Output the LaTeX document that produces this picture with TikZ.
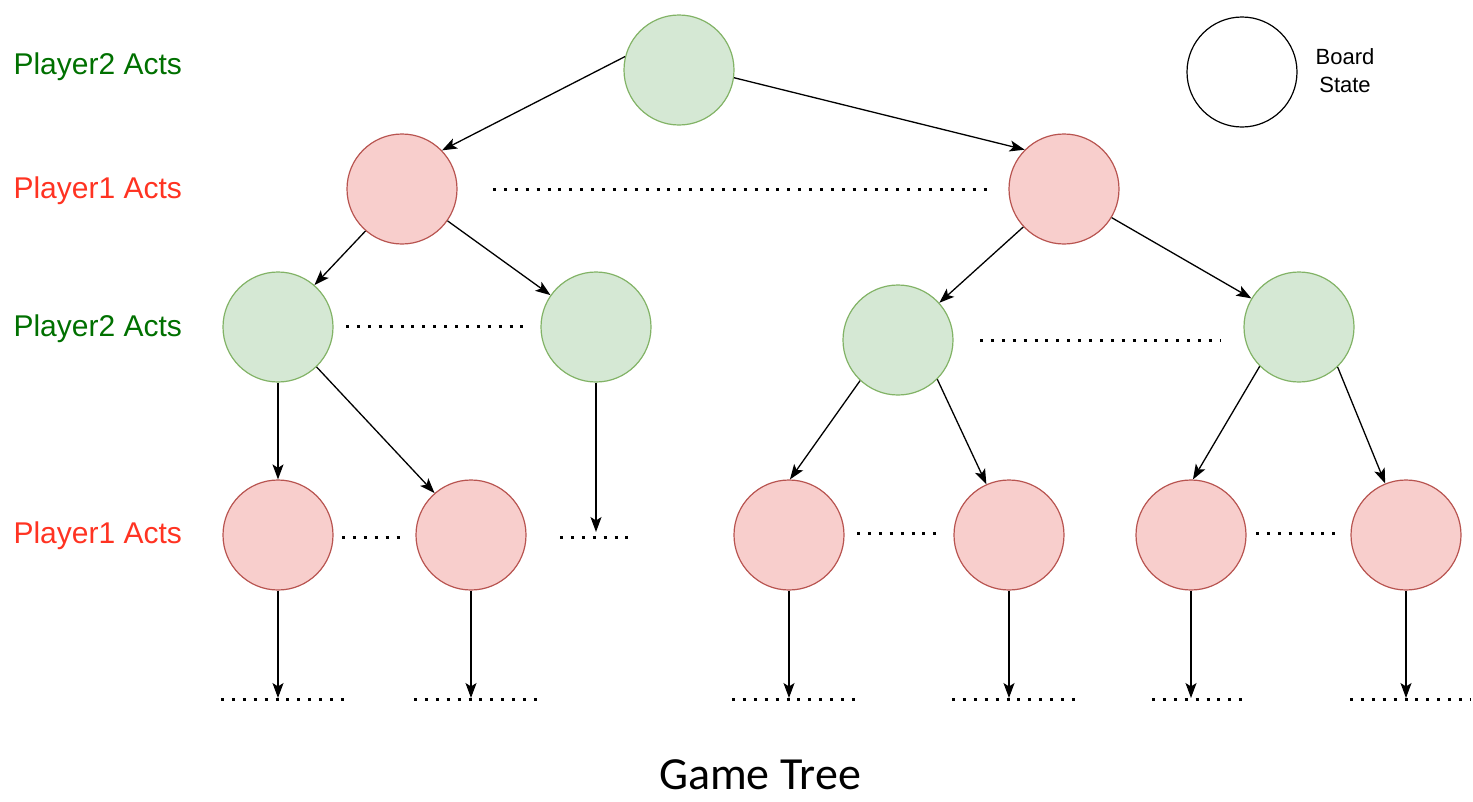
\documentclass[tikz,border=0pt]{standalone}
\usepackage{fontspec}
\setmainfont{Liberation Sans}
\newfontfamily\titlefont{Carlito}
\usetikzlibrary{arrows.meta}
\definecolor{gfill}{HTML}{D5E8D4}
\definecolor{gline}{HTML}{82B366}
\definecolor{rfill}{HTML}{F8CECC}
\definecolor{rline}{HTML}{B85450}
\definecolor{gtext}{HTML}{007000}
\definecolor{rtext}{HTML}{FF3322}
\tikzset{
  state/.style={circle, minimum size=110pt, inner sep=0pt, line width=1.2pt},
  gstate/.style={state, fill=gfill, draw=gline},
  rstate/.style={state, fill=rfill, draw=rline},
  conn/.style={line width=1.3pt, -{Stealth[length=15pt,width=11pt,inset=3.5pt]}},
  dots/.style={line width=3pt, dash pattern=on 3pt off 7.9pt},
  lvl/.style={anchor=west, font=\fontsize{30}{34}\selectfont},
}
\begin{document}
\begin{tikzpicture}[x=1pt,y=-1pt]
\useasboundingbox (0,0) rectangle (1473,801);
% level labels
\node[lvl, text=gtext] (l0) at (10,67) {Player2 Acts};
\node[lvl, text=rtext] (l1) at (10,191) {Player1 Acts};
\node[lvl, text=gtext] (l2) at (10,329) {Player2 Acts};
\node[lvl, text=rtext] (l3) at (10,536) {Player1 Acts};
% legend
\node[state, draw=black, line width=1.2pt] (leg) at (1242,72) {};
\node[align=center, font=\fontsize{22}{28}\selectfont] (legt) at (1345,71) {Board\\State};
% nodes
\node[gstate] (root) at (679,70) {};
\node[rstate] (a) at (402,189) {};
\node[rstate] (b) at (1064,189) {};
\node[gstate] (a1) at (278,327) {};
\node[gstate] (a2) at (596,327) {};
\node[gstate] (b1) at (898,340) {};
\node[gstate] (b2) at (1299,327) {};
\node[rstate] (c1) at (278,535) {};
\node[rstate] (c2) at (471,535) {};
\node[rstate] (c3) at (789,535) {};
\node[rstate] (c4) at (1009,535) {};
\node[rstate] (c5) at (1191,535) {};
\node[rstate] (c6) at (1406,535) {};
% free ends
\coordinate (e2) at (596,532);
\coordinate (d1) at (278,698);
\coordinate (d2) at (471,698);
\coordinate (d3) at (789,698);
\coordinate (d4) at (1009,698);
\coordinate (d5) at (1191,698);
\coordinate (d6) at (1406,698);
% connectors
\draw[conn] (root.166) -- (a.44);
\draw[conn] (root.352) -- (b.135);
\draw[conn] (a.229) -- (a1.49);
\draw[conn] (a.325) -- (a2.145);
\draw[conn] (b.223) -- (b1.42);
\draw[conn] (b.329) -- (b2.149);
\draw[conn] (a1.270) -- (c1.90);
\draw[conn] (a1.314) -- (c2.131);
\draw[conn] (a2.270) -- (e2);
\draw[conn] (b1.227) -- (c3.89);
\draw[conn] (b1.315) -- (c4.114);
\draw[conn] (b2.225) -- (c5.88);
\draw[conn] (b2.314) -- (c6.112);
\draw[conn] (c1.270) -- (d1);
\draw[conn] (c2.270) -- (d2);
\draw[conn] (c3.270) -- (d3);
\draw[conn] (c4.270) -- (d4);
\draw[conn] (c5.270) -- (d5);
\draw[conn] (c6.270) -- (d6);
% dotted ellipses
\draw[dots] (493,189) -- (990,189);
\draw[dots] (346,326) -- (530,326);
\draw[dots] (980,340) -- (1220,340);
\draw[dots] (342,537) -- (404,537);
\draw[dots] (560,537) -- (634,537);
\draw[dots] (857,533) -- (942,533);
\draw[dots] (1256,533) -- (1342,533);
\draw[dots] (221,699) -- (350,699);
\draw[dots] (414,699) -- (543,699);
\draw[dots] (732,699) -- (859,699);
\draw[dots] (952,699) -- (1078,699);
\draw[dots] (1152,699) -- (1246,699);
\draw[dots] (1350,699) -- (1470,699);
% title
\node[font=\titlefont\fontsize{46}{50}\selectfont] (title) at (760,775) {Game Tree};
\end{tikzpicture}
\end{document}
